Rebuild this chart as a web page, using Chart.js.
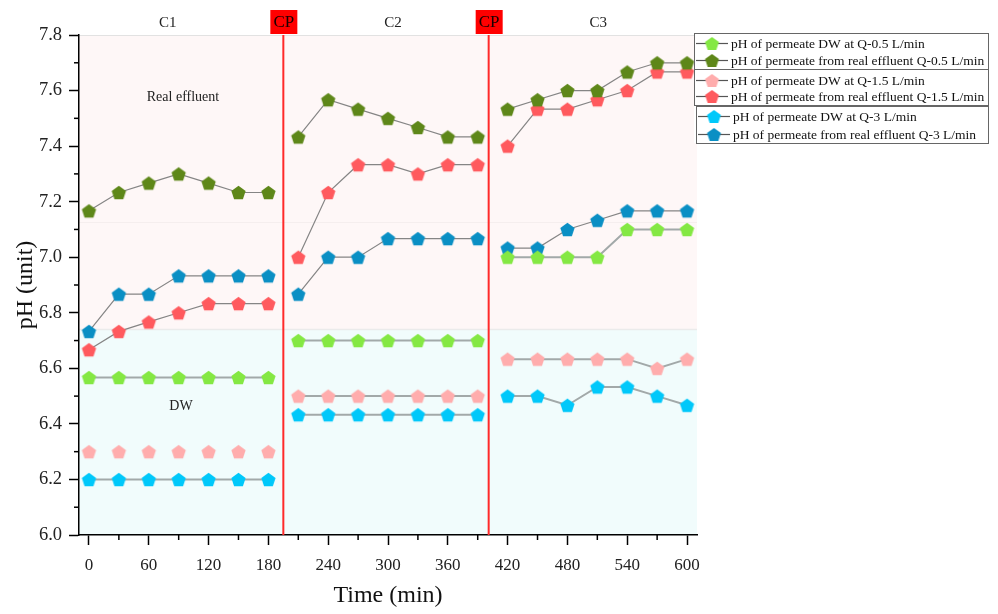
<!DOCTYPE html>
<html>
<head>
<meta charset="utf-8">
<script src="https://cdn.jsdelivr.net/npm/chart.js@4.4.1/dist/chart.umd.min.js"></script>
<style>
html,body{margin:0;padding:0;background:#fff;}
#wrap{width:998px;height:614px;position:relative;}
</style>
</head>
<body>
<div id="wrap"><canvas id="c" width="998" height="614"></canvas></div>
<script>
// ---- data ----
const times = [0,30,60,90,120,150,180,210,240,270,300,330,360,390,420,450,480,510,540,570,600];
const dwQ05   = [6.567,6.567,6.567,6.567,6.567,6.567,6.567, 6.7,6.7,6.7,6.7,6.7,6.7,6.7, 7.0,7.0,7.0,7.0,7.1,7.1,7.1];
const realQ05 = [7.167,7.233,7.267,7.3,7.267,7.233,7.233, 7.433,7.567,7.533,7.5,7.467,7.433,7.433, 7.533,7.567,7.6,7.6,7.667,7.7,7.7];
const dwQ15   = [6.3,6.3,6.3,6.3,6.3,6.3,6.3, 6.5,6.5,6.5,6.5,6.5,6.5,6.5, 6.633,6.633,6.633,6.633,6.633,6.6,6.633];
const realQ15 = [6.667,6.733,6.767,6.8,6.833,6.833,6.833, 7.0,7.233,7.333,7.333,7.3,7.333,7.333, 7.4,7.533,7.533,7.567,7.6,7.667,7.667];
const dwQ3    = [6.2,6.2,6.2,6.2,6.2,6.2,6.2, 6.433,6.433,6.433,6.433,6.433,6.433,6.433, 6.5,6.5,6.467,6.533,6.533,6.5,6.467];
const realQ3  = [6.733,6.867,6.867,6.933,6.933,6.933,6.933, 6.867,7.0,7.0,7.067,7.067,7.067,7.067, 7.033,7.033,7.1,7.133,7.167,7.167,7.167];
const seriesNames = [
  'pH of permeate DW at Q-0.5 L/min',
  'pH of permeate from real effluent Q-0.5 L/min',
  'pH of permeate DW at Q-1.5 L/min',
  'pH of permeate from real effluent Q-1.5 L/min',
  'pH of permeate DW at Q-3 L/min',
  'pH of permeate from real effluent Q-3 L/min'
];
const cpTimes = [195, 401];
const cycleLabels = ['C1','C2','C3'];
const cycleCenters = [79, 305, 511];
const xTicks = [0,60,120,180,240,300,360,420,480,540,600];
const xMinor = [30,90,150,210,270,330,390,450,510,570];
const yTicks = [6.0,6.2,6.4,6.6,6.8,7.0,7.2,7.4,7.6,7.8];
const yMinor = [6.1,6.3,6.5,6.7,6.9,7.1,7.3,7.5,7.7];
const bandSplit = 6.74;
const faintLine = 7.125;

// ---- styles ----
const colors = ['#84e843','#5e8719','#ffadad','#ff5a5e','#00c8fa','#0a8fc4'];
const FONT = '"Liberation Serif", "Times New Roman", serif';

function pentagon(color, r) {
  const c = document.createElement('canvas');
  const s = Math.ceil(2*r + 2);
  c.width = s; c.height = s;
  const g = c.getContext('2d');
  g.fillStyle = color;
  g.beginPath();
  const cx = s/2, cy = s/2 + r*0.095;
  for (let k = 0; k < 5; k++) {
    const a = -Math.PI/2 + k*2*Math.PI/5;
    const px = cx + r*Math.cos(a), py = cy + r*Math.sin(a);
    k ? g.lineTo(px, py) : g.moveTo(px, py);
  }
  g.closePath(); g.fill();
  return c;
}
function legendIcon(color) {
  const c = document.createElement('canvas');
  c.width = 32; c.height = 16;
  const g = c.getContext('2d');
  g.strokeStyle = '#555'; g.lineWidth = 1.2;
  g.beginPath(); g.moveTo(0, 8.5); g.lineTo(32, 8.5); g.stroke();
  g.drawImage(pentagon(color, 7.3), 16 - 8.5, 0);
  return c;
}
const markers = colors.map(c => pentagon(c, 7.5));
const icons = colors.map(c => legendIcon(c));

const vals = [dwQ05, realQ05, dwQ15, realQ15, dwQ3, realQ3];
function crossesCP(ctx) {
  const a = ctx.p0.parsed.x, b = ctx.p1.parsed.x;
  return cpTimes.some(cp => a < cp && b > cp);
}
const datasets = vals.map((v, i) => {
  const isDW = i % 2 === 0;
  return {
    label: seriesNames[i],
    data: times.map((t, j) => ({x: t, y: v[j]})),
    showLine: true,
    borderColor: isDW ? '#a2a9a9' : '#858585',
    borderWidth: isDW ? 2 : 1.2,
    pointStyle: markers[i],
    pointRadius: 7,
    order: [2, 3, 1, 4, 5, 6][i],
    segment: {
      borderColor: ctx => {
        if (crossesCP(ctx)) return 'rgba(0,0,0,0)';
        if (i === 2 && ctx.p1.parsed.x <= 180) return 'rgba(0,0,0,0)';
        return undefined;
      }
    }
  };
});

const decor = {
  id: 'decor',
  beforeDraw(chart) {
    const {ctx, chartArea: a, scales: {x, y}} = chart;
    const ys = y.getPixelForValue(bandSplit);
    ctx.save();
    ctx.fillStyle = '#fef7f7';
    ctx.fillRect(a.left, a.top, a.right - a.left, ys - a.top);
    ctx.fillStyle = '#f1fcfc';
    ctx.fillRect(a.left, ys, a.right - a.left, a.bottom - ys);
    ctx.strokeStyle = '#ebebeb'; ctx.lineWidth = 1.5;
    ctx.beginPath(); ctx.moveTo(a.left, ys); ctx.lineTo(a.right, ys); ctx.stroke();
    const yf = y.getPixelForValue(faintLine);
    ctx.strokeStyle = '#f5eeee'; ctx.lineWidth = 1;
    ctx.beginPath(); ctx.moveTo(a.left, yf); ctx.lineTo(a.right, yf); ctx.stroke();
    ctx.strokeStyle = '#e2e2e2'; ctx.lineWidth = 1;
    ctx.beginPath(); ctx.moveTo(a.left, a.top + 0.5); ctx.lineTo(a.right, a.top + 0.5); ctx.stroke();
    ctx.restore();
  },
  beforeDatasetsDraw(chart) {
    const {ctx, chartArea: a, scales: {x, y}} = chart;
    ctx.save();
    ctx.strokeStyle = '#ff2a2a'; ctx.lineWidth = 2;
    cpTimes.forEach(cp => {
      const px = x.getPixelForValue(cp);
      ctx.beginPath(); ctx.moveTo(px, a.top); ctx.lineTo(px, a.bottom); ctx.stroke();
    });
    // minor ticks
    ctx.strokeStyle = '#000'; ctx.lineWidth = 1.5;
    xMinor.forEach(v => {
      const px = x.getPixelForValue(v);
      ctx.beginPath(); ctx.moveTo(px, a.bottom); ctx.lineTo(px, a.bottom + 5); ctx.stroke();
    });
    yMinor.forEach(v => {
      const py = y.getPixelForValue(v);
      ctx.beginPath(); ctx.moveTo(a.left, py); ctx.lineTo(a.left - 5, py); ctx.stroke();
    });
    ctx.restore();
  },
  afterDraw(chart) {
    const {ctx, chartArea: a, scales: {x, y}} = chart;
    ctx.save();
    // cycle labels
    ctx.fillStyle = '#222';
    ctx.font = '15px ' + FONT;
    ctx.textAlign = 'center'; ctx.textBaseline = 'middle';
    cycleLabels.forEach((t, i) => ctx.fillText(t, x.getPixelForValue(cycleCenters[i]), 23));
    // CP boxes
    cpTimes.forEach(cp => {
      const px = x.getPixelForValue(cp);
      ctx.fillStyle = '#ff0000';
      ctx.fillRect(px - 13, 10, 27, 24);
      ctx.fillStyle = '#1a0000';
      ctx.font = '17px ' + FONT;
      ctx.fillText('CP', px + 0.5, 22.5);
    });
    // region labels
    ctx.fillStyle = '#222';
    ctx.font = '14px ' + FONT;
    ctx.fillText('Real effluent', 183, 97);
    ctx.fillText('DW', 181, 406);
    // legend
    ctx.textAlign = 'left';
    ctx.font = '13.5px ' + FONT;
    const groups = [[694, 33, 988, 69], [694, 69, 988, 105], [696, 106, 988, 143]];
    ctx.fillStyle = '#fff';
    ctx.fillRect(694, 33, 294, 110);
    ctx.strokeStyle = '#666'; ctx.lineWidth = 1;
    groups.forEach(g => ctx.strokeRect(g[0] + 0.5, g[1] + 0.5, g[2] - g[0], g[3] - g[1]));
    const itemY = [43, 60, 80, 96, 116, 134];
    seriesNames.forEach((n, i) => {
      const off = i >= 4 ? 2 : 0;
      ctx.drawImage(icons[i], 696 + off, itemY[i] - 8);
      ctx.fillStyle = '#111';
      ctx.fillText(n, 731 + off, itemY[i] + 1);
    });
    ctx.restore();
  }
};

new Chart(document.getElementById('c'), {
  type: 'scatter',
  data: {datasets},
  plugins: [decor],
  options: {
    responsive: false,
    animation: false,
    layout: {padding: {top: 35, right: 301, bottom: 0, left: 0}},
    plugins: {legend: {display: false}, tooltip: {enabled: false}},
    scales: {
      x: {
        type: 'linear', min: -10, max: 610,
        afterBuildTicks: s => { s.ticks = xTicks.map(v => ({value: v})); },
        afterFit: s => { s.height = 79; },
        ticks: {font: {family: FONT, size: 17}, color: '#222', padding: 10, maxRotation: 0},
        grid: {drawOnChartArea: false, drawTicks: true, tickLength: 10, tickColor: '#000', tickWidth: 1.5},
        border: {color: '#000', width: 1.5},
        title: {display: true, text: 'Time (min)', font: {family: FONT, size: 24}, color: '#111', padding: {top: 4, bottom: 4}}
      },
      y: {
        type: 'linear', min: 6.0, max: 7.8,
        afterBuildTicks: s => { s.ticks = yTicks.map(v => ({value: v})); },
        afterFit: s => { s.width = 79; },
        ticks: {font: {family: FONT, size: 18.5}, color: '#222', padding: 7, callback: v => Number(v).toFixed(1)},
        grid: {drawOnChartArea: false, drawTicks: true, tickLength: 10, tickColor: '#000', tickWidth: 1.5},
        border: {color: '#000', width: 1.5},
        title: {display: true, text: 'pH (unit)', font: {family: FONT, size: 24}, color: '#111', padding: {top: 11, bottom: 4}}
      }
    }
  }
});
</script>
</body>
</html>
